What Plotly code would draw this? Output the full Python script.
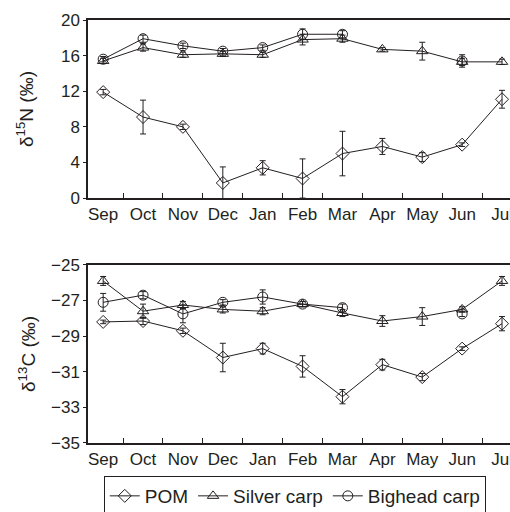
import plotly.graph_objects as go

months = ["Sep", "Oct", "Nov", "Dec", "Jan", "Feb", "Mar", "Apr", "May", "Jun", "Jul"]

# delta 15N
n_pom = [11.9, 9.1, 8.0, 1.7, 3.4, 2.2, 5.0, 5.8, 4.6, 6.0, 11.1]
n_pom_err = [0.3, 1.9, 0.3, 1.8, 0.8, 2.2, 2.5, 0.9, 0.5, 0.2, 1.0]
n_silver = [15.4, 16.9, 16.1, 16.2, 16.1, 17.8, 17.9, 16.7, 16.5, 15.3, 15.3]
n_silver_err = [0.3, 0.4, 0.3, 0.3, 0.3, 0.6, 0.4, 0.2, 1.0, 0.4, 0.3]
n_big = [15.6, 17.9, 17.1, 16.5, 16.9, 18.4, 18.4, None, None, 15.4, None]
n_big_err = [0.3, 0.4, 0.3, 0.3, 0.3, 0.6, 0.4, 0, 0, 0.7, 0]

# delta 13C
c_pom = [-28.2, -28.15, -28.7, -30.2, -29.7, -30.7, -32.4, -30.6, -31.3, -29.7, -28.3]
c_pom_err = [0.1, 0.2, 0.15, 0.8, 0.3, 0.6, 0.4, 0.3, 0.2, 0.1, 0.4]
c_silver = [-25.9, -27.6, -27.25, -27.5, -27.6, -27.2, -27.7, -28.15, -27.9, -27.5, -25.9]
c_silver_err = [0.25, 0.4, 0.2, 0.2, 0.2, 0.15, 0.2, 0.3, 0.5, 0.15, 0.25]
c_big = [-27.1, -26.7, -27.75, -27.1, -26.8, -27.2, -27.4, None, None, -27.75, None]
c_big_err = [0.5, 0.2, 0.5, 0.15, 0.4, 0.15, 0.2, 0, 0, 0.15, 0]

names = ["POM", "Silver carp", "Bighead carp"]
symbols = ["diamond-open", "triangle-up-open", "circle-open"]

FONT = "Liberation Sans, Arial, sans-serif"
INK = "#231f20"

fig = go.Figure()

def add(yvals, errs, name, sym, xa, ya, show):
    fig.add_trace(go.Scatter(
        x=months, y=yvals, name=name, mode="lines+markers",
        xaxis=xa, yaxis=ya, showlegend=show, connectgaps=False,
        line=dict(color=INK, width=1),
        marker=dict(symbol=sym, size=10, color=INK, line=dict(color=INK, width=1)),
        error_y=dict(type="data", array=errs, visible=True, color=INK, thickness=1, width=3),
    ))

for vals, errs, nm, sym in [(n_pom, n_pom_err, names[0], symbols[0]),
                            (n_silver, n_silver_err, names[1], symbols[1]),
                            (n_big, n_big_err, names[2], symbols[2])]:
    add(vals, errs, nm, sym, "x", "y", True)

for vals, errs, nm, sym in [(c_pom, c_pom_err, names[0], symbols[0]),
                            (c_silver, c_silver_err, names[1], symbols[1]),
                            (c_big, c_big_err, names[2], symbols[2])]:
    add(vals, errs, nm, sym, "x2", "y2", False)

xcommon = dict(
    type="category", categoryorder="array", categoryarray=months,
    range=[-0.38, 10.2], tickson="boundaries", tickangle=0,
    ticks="inside", ticklen=5, tickcolor=INK, tickwidth=1,
    showgrid=False, zeroline=False, showline=True, linecolor=INK,
    linewidth=1.5, mirror=True, ticklabeloverflow="allow", automargin=False,
    tickfont=dict(family=FONT, size=17, color=INK),
)
ycommon = dict(
    showgrid=False, zeroline=False, showline=True, linecolor=INK, linewidth=1.5,
    ticks="outside", ticklen=3, tickcolor=INK, automargin=False,
    tickfont=dict(family=FONT, size=17, color=INK),
)

fig.update_layout(
    width=510, height=512,
    margin=dict(l=88, r=0, t=20, b=69, autoexpand=False),
    paper_bgcolor="white", plot_bgcolor="white",
    font=dict(family=FONT, size=17, color=INK),
    xaxis=dict(**xcommon, anchor="y", domain=[0, 1]),
    yaxis=dict(**ycommon, domain=[0.579, 1.0], range=[0, 20], tickvals=[0, 4, 8, 12, 16, 20],
               title=dict(text="δ<sup>15</sup>N (‰)", font=dict(family=FONT, size=19, color=INK), standoff=22)),
    xaxis2=dict(**xcommon, anchor="y2", domain=[0, 1]),
    yaxis2=dict(**ycommon, domain=[0, 0.421], range=[-35, -25],
                tickvals=[-35, -33, -31, -29, -27, -25],
                ticktext=["−35", "−33", "−31", "−29", "−27", "−25"],
                title=dict(text="δ<sup>13</sup>C (‰)", font=dict(family=FONT, size=19, color=INK), standoff=10)),
    legend=dict(orientation="h", x=0.49, xanchor="center", y=-0.078, yanchor="top",
                bordercolor=INK, borderwidth=1, bgcolor="white",
                font=dict(family=FONT, size=19, color=INK),
                itemwidth=30, tracegroupgap=0),
    showlegend=True,
)

fig.write_html("out.html")
